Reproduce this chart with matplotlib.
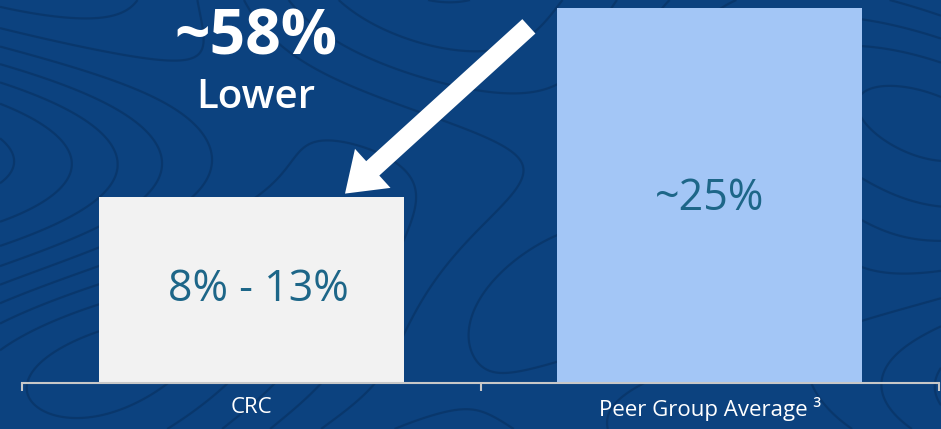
import numpy as np
import matplotlib.pyplot as plt
from matplotlib.patches import FancyArrowPatch

categories = ["CRC", "Peer Group Average \u00b3"]
values = [12.4, 25.0]
value_labels = ["8% - 13%", "~25%"]
callout_big = "~58%"
callout_small = "Lower"

bg = "#0c427f"
bar_colors = ["#f2f2f2", "#a3c6f6"]
label_color = "#1d6688"
font = "Open Sans"

fig = plt.figure(figsize=(9.41, 4.29), dpi=100)
fig.patch.set_facecolor(bg)

# topographic texture in the background
bgax = fig.add_axes([0, 0, 1, 1], zorder=0)
gx, gy = np.meshgrid(np.linspace(0, 9.4, 500), np.linspace(0, 4.3, 240))
field = (np.sin(gx * 0.9 + np.cos(gy * 1.3)) + 0.8 * np.cos(gy * 1.1 - gx * 0.4)
         + 0.5 * np.sin(gx * 0.35 + gy * 1.7))
bgax.set_facecolor(bg)
bgax.contour(gx, gy, field, levels=9, colors="#072d5a", linewidths=1.6,
             alpha=0.5, linestyles="solid")
bgax.set_axis_off()

ax = fig.add_axes([22 / 941, 46 / 429, 917 / 941, 383 / 429], zorder=1)
ax.patch.set_alpha(0)
x = np.arange(len(categories))
ax.bar(x, values, width=0.666, color=bar_colors, zorder=2)
ax.set_xlim(-0.5, 1.5)
ax.set_ylim(0, 25.53)

offsets = [0.015, 0.0]
for xi, v, lab, off in zip(x, values, value_labels, offsets):
    ypos = v * 0.5 if xi == 0 else v * 0.49
    ax.text(xi + off, ypos, lab, ha="center", va="center", fontsize=31,
            color=label_color, family=font, zorder=3)

ax.text(0.01, 23.0, callout_big, ha="center", va="center", fontsize=45,
        color="white", fontweight="bold", family=font)
ax.text(0.01, 19.0, callout_small, ha="center", va="center", fontsize=29,
        color="white", family=font, fontweight="semibold")

arrow = FancyArrowPatch((0.61, 23.9), (0.2, values[0] + 0.1),
                        arrowstyle="simple,head_length=27,head_width=38,tail_width=14",
                        mutation_scale=1, color="white", lw=0, zorder=4)
ax.add_patch(arrow)

for s in ["left", "right", "top"]:
    ax.spines[s].set_visible(False)
ax.spines["bottom"].set_color("#c8c8c8")
ax.spines["bottom"].set_linewidth(1.5)
ax.set_yticks([])
ax.set_xticks([-0.5, 0.5, 1.5])
ax.set_xticklabels([])
ax.set_xticks(x, minor=True)
ax.set_xticklabels(categories, minor=True, color="white", fontsize=16, family=font)
ax.tick_params(axis="x", which="major", length=6, width=1.5, color="#c8c8c8")
ax.tick_params(axis="x", which="minor", length=0, pad=10)

fig.savefig("out.png", dpi=100, facecolor=bg)
